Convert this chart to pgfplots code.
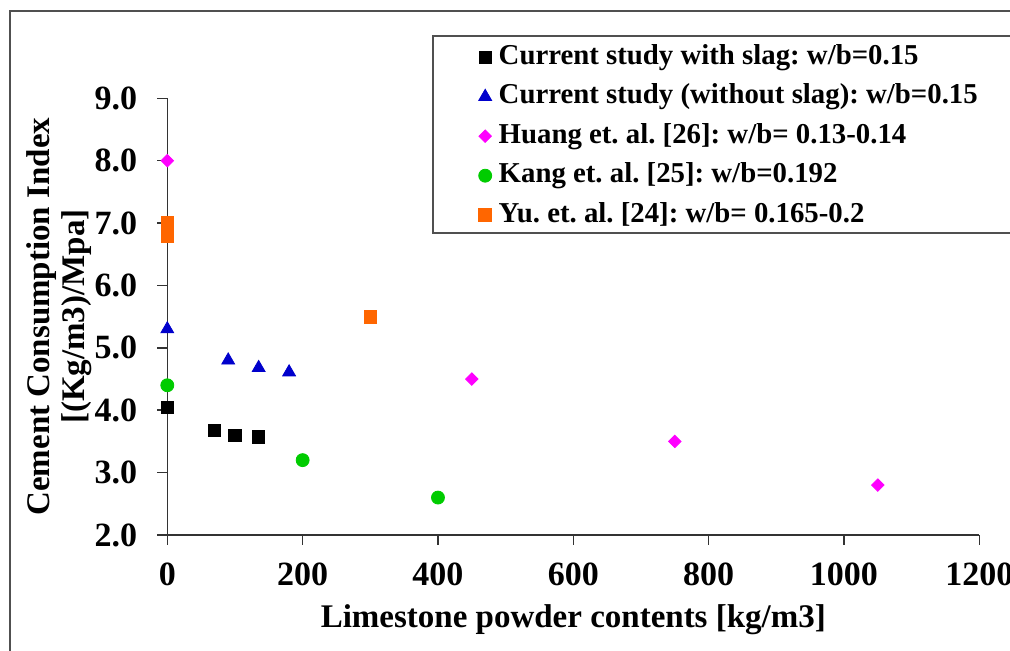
\documentclass[border=0pt]{standalone}
\usepackage{fontspec}
\setmainfont{Liberation Serif}
\usepackage{pgfplots}
\pgfplotsset{compat=1.18}

\definecolor{cblue}{RGB}{0,0,204}
\definecolor{cmag}{RGB}{255,0,255}
\definecolor{cgreen}{RGB}{0,204,0}
\definecolor{corange}{RGB}{255,102,0}
\definecolor{frame}{RGB}{80,80,80}

\frenchspacing
\begin{document}
\begin{tikzpicture}
\useasboundingbox (0,0) rectangle (505pt,325.5pt);
% outer frame and legend box (both run past the right edge)
\begin{scope}
  \clip (0,0) rectangle (505pt,325.5pt);
  \draw[frame, line width=0.75pt] (5pt,-20pt) rectangle (540pt,320pt);
  \draw[frame, line width=0.75pt] (216.5pt,209pt) rectangle (540pt,307.5pt);
\end{scope}
\begin{axis}[
  at={(83.65pt,58pt)}, anchor=south west,
  scale only axis, width=406pt, height=218.35pt,
  xmin=0, xmax=1200, ymin=2, ymax=9,
  axis lines=left,
  axis line style={-, black!80, line width=0.75pt},
  tick align=outside, major tick length=5pt,
  tick style={black!80, line width=0.75pt},
  xtick={0,200,...,1200}, ytick={2,3,...,9},
  scaled ticks=false,
  /pgf/number format/assume math mode=true,
  /pgf/number format/1000 sep={},
  ticklabel style={font=\bfseries\fontsize{17}{19}\selectfont},
  xticklabel style={yshift=-5.5pt},
  yticklabel style={xshift=-6.5pt, /pgf/number format/.cd, fixed, fixed zerofill, precision=1},
  xlabel={Limestone powder contents [kg/m3]},
  xlabel style={at={(axis description cs:0.5,0)}, anchor=base, yshift=-46.5pt,
    font=\bfseries\fontsize{16.5}{19}\selectfont},
  ylabel={Cement Consumption Index\\{[}(Kg/m3)/Mpa{]}},
  ylabel style={align=center, at={(axis description cs:-0.0841,0.5)}, anchor=south,
    font=\bfseries\fontsize{16.5}{17.5}\selectfont},
  legend style={at={(0.3835,1.1239)}, anchor=north west, draw=none, fill=none,
    inner sep=0pt, outer sep=0pt, row sep=6.75pt, column sep=3.5pt,
    font=\bfseries\fontsize{14.4}{16}\selectfont,
    nodes={inner sep=0pt, text height=10pt, text depth=3pt}},
  legend cell align=left,
  legend image code/.code={\draw[mark repeat=2,mark phase=2] plot coordinates {(0pt,0pt) (4pt,0pt) (8pt,0pt)};},
  clip=false,
]
\addplot[only marks, mark=square*, mark size=3.1pt, black] coordinates {
  (0,4.05) (70,3.68) (100,3.60) (135,3.57)};
\addlegendentry{Current study with slag: w/b=0.15}
\addplot[only marks, mark=triangle*, mark size=3.7pt, cblue] coordinates {
  (0,5.30) (90,4.80) (135,4.68) (180,4.61)};
\addlegendentry{Current study (without slag): w/b=0.15}
\addplot[only marks, mark=square*, mark size=2.2pt, mark options={rotate=45}, cmag] coordinates {
  (0,8.0) (450,4.5) (750,3.5) (1050,2.8)};
\addlegendentry{Huang et. al. [26]: w/b= 0.13-0.14}
\addplot[only marks, mark=*, mark size=3.25pt, cgreen] coordinates {
  (0,4.4) (200,3.2) (400,2.6)};
\addlegendentry{Kang et. al. [25]: w/b=0.192}
\addplot[only marks, mark=square*, mark size=3.2pt, corange] coordinates {
  (0,6.8) (0,6.9) (0,7.0) (300,5.5)};
\addlegendentry{Yu. et. al. [24]: w/b= 0.165-0.2}
\end{axis}
\end{tikzpicture}
\end{document}
